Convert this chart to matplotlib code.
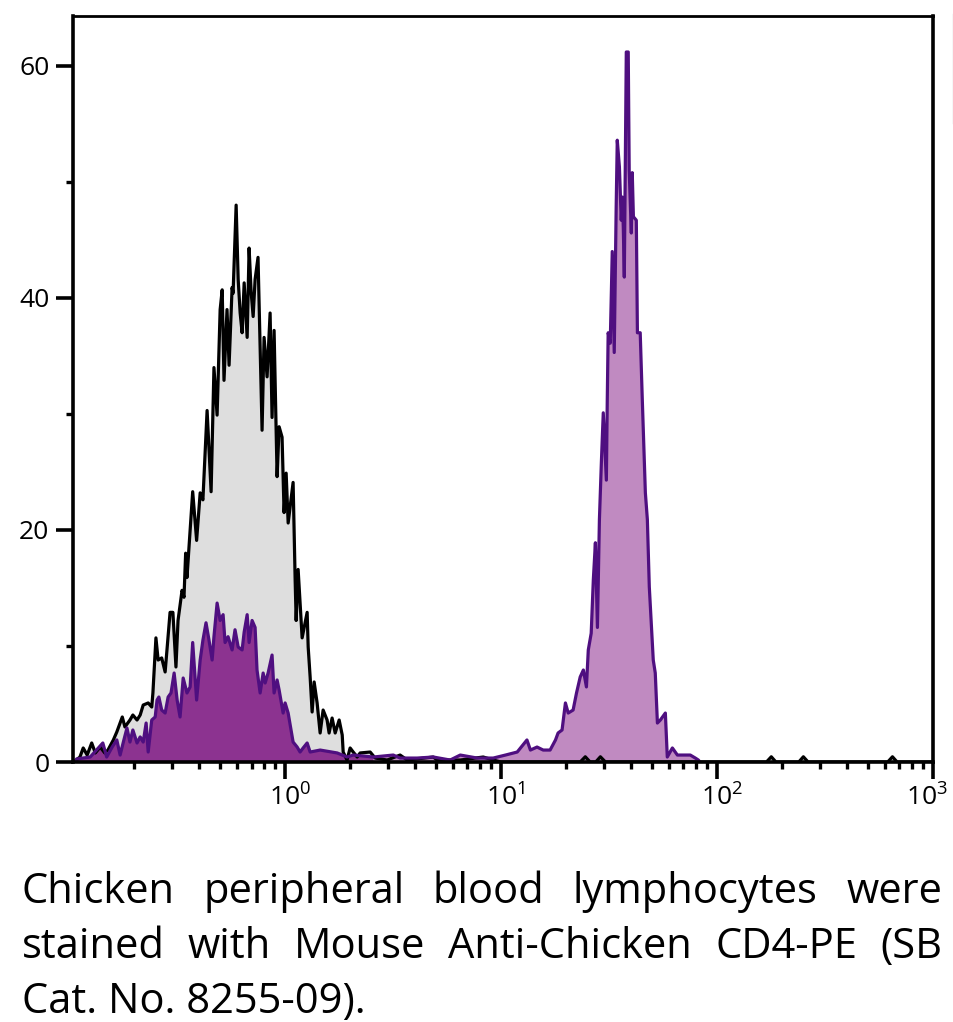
import matplotlib
matplotlib.use("Agg")
import matplotlib.pyplot as plt
from matplotlib.ticker import FixedLocator, NullFormatter, LogLocator
from matplotlib.lines import Line2D
import matplotlib.transforms as mtransforms
import numpy as np

plt.rcParams['font.family'] = ['Open Sans', 'DejaVu Sans']

# control (unstained) histogram: intensity, count
ctrl_x = [0.105, 0.112, 0.116, 0.121, 0.127, 0.132, 0.139, 0.146, 0.151, 0.160,
          0.166, 0.176, 0.181, 0.191, 0.197, 0.206, 0.213, 0.220, 0.232, 0.241,
          0.244, 0.252, 0.258, 0.268, 0.278, 0.284, 0.293, 0.302, 0.312, 0.319,
          0.333, 0.340, 0.346, 0.351, 0.373, 0.389, 0.404, 0.416, 0.435, 0.454,
          0.468, 0.484, 0.500, 0.511, 0.521, 0.538, 0.550, 0.568, 0.574, 0.593,
          0.606, 0.619, 0.632, 0.646, 0.667, 0.681, 0.696, 0.711, 0.726, 0.749,
          0.782, 0.799, 0.825, 0.852, 0.870, 0.889, 0.918, 0.938, 0.968, 0.989,
          1.011, 1.033, 1.089, 1.113, 1.125, 1.149, 1.199, 1.265, 1.279, 1.306,
          1.334, 1.363, 1.407, 1.453, 1.500, 1.565, 1.599, 1.651, 1.706, 1.780,
          1.839, 1.858, 1.936, 2.001, 2.068, 2.158, 2.227, 2.478, 2.614, 2.97,
          3.41, 3.68, 4.86, 5.07, 6.48, 8.28, 9.21, 10.0, 23.3, 24.6,
          25.9, 27.5, 28.9, 30.5, 170, 179, 188, 240, 252, 265,
          620, 652, 685, 1000]
ctrl_y = [0.0, 0.43, 1.21, 0.60, 1.64, 0.78, 1.29, 0.78, 1.03, 1.90,
          2.59, 3.88, 3.02, 3.62, 4.05, 3.62, 4.05, 4.91, 5.09, 4.74,
          5.95, 10.7, 8.79, 8.97, 7.76, 9.83, 12.9, 12.9, 8.19, 12.2,
          14.8, 14.2, 18.0, 15.9, 23.3, 19.1, 23.2, 22.6, 30.3, 23.3,
          34.0, 29.9, 39.0, 40.7, 32.9, 39.0, 34.2, 40.9, 40.4, 48.0,
          41.6, 38.7, 37.0, 41.3, 36.6, 44.3, 40.5, 38.4, 41.6, 43.5,
          28.6, 36.6, 33.2, 38.7, 29.7, 37.2, 24.6, 28.9, 28.0, 21.5,
          24.9, 20.6, 24.1, 15.7, 12.2, 16.6, 10.7, 12.9, 9.91, 7.33,
          4.31, 6.90, 5.09, 2.50, 4.48, 3.62, 2.50, 3.79, 2.50, 3.62,
          2.33, 0.86, 0.17, 1.21, 0.86, 0.43, 0.78, 0.86, 0.34, 0.17,
          0.60, 0.17, 0.43, 0.17, 0.17, 0.43, 0.17, 0.0, 0.0, 0.45,
          0.0, 0.0, 0.45, 0.0, 0.0, 0.45, 0.0, 0.0, 0.45, 0.0,
          0.0, 0.45, 0.0, 0.0]

# CD4-PE stained histogram: intensity, count
cd4_x = [0.107, 0.108, 0.125, 0.143, 0.149, 0.158, 0.166, 0.172, 0.178, 0.185,
         0.191, 0.197, 0.206, 0.213, 0.220, 0.227, 0.232, 0.241, 0.250, 0.255,
         0.260, 0.268, 0.278, 0.287, 0.296, 0.306, 0.316, 0.326, 0.337, 0.351,
         0.363, 0.373, 0.389, 0.404, 0.416, 0.430, 0.444, 0.459, 0.468, 0.484,
         0.500, 0.516, 0.527, 0.544, 0.568, 0.586, 0.606, 0.632, 0.646, 0.667,
         0.681, 0.703, 0.726, 0.741, 0.766, 0.791, 0.808, 0.834, 0.870, 0.889,
         0.918, 0.938, 0.979, 1.000, 1.033, 1.066, 1.089, 1.137, 1.173, 1.212,
         1.265, 1.306, 1.453, 1.743, 1.937, 2.068, 2.56, 3.17, 3.41, 4.09,
         4.86, 5.82, 6.48, 7.77, 9.21, 10.5, 11.9, 13.2, 13.7, 14.7,
         15.7, 16.9, 17.9, 18.4, 19.2, 19.9, 20.5, 21.6, 22.4, 23.3,
         24.1, 24.9, 25.4, 26.2, 26.8, 27.4, 28.0, 28.6, 29.2, 29.8,
         30.8, 31.1, 31.4, 32.1, 32.8, 33.5, 34.2, 34.6, 35.4, 36.1,
         36.5, 36.9, 37.3, 38.1, 38.9, 39.3, 40.2, 40.6, 41.1, 42.4,
         42.9, 44.2, 45.2, 46.7, 47.7, 48.7, 50.8, 51.9, 53.1, 54.8,
         57.8, 59.0, 62.3, 65.7, 70.0, 75.4, 79.6, 82.2, 83.6]
cd4_y = [0.0, 0.26, 0.43, 1.64, 0.43, 1.29, 1.90, 0.60, 1.72, 2.93,
         1.72, 2.76, 1.64, 2.16, 1.72, 3.36, 0.86, 3.62, 3.88, 5.34,
         5.60, 4.48, 4.22, 5.60, 5.95, 7.67, 5.34, 3.88, 7.24, 5.95,
         6.47, 10.3, 5.34, 8.79, 10.5, 12.0, 10.5, 8.79, 10.8, 13.7,
         12.2, 12.7, 10.3, 10.8, 9.66, 11.4, 9.91, 9.66, 11.2, 12.7,
         10.3, 12.2, 11.6, 7.93, 5.95, 7.67, 6.81, 7.67, 9.22, 5.95,
         7.07, 6.21, 4.22, 5.09, 4.22, 2.76, 1.72, 1.29, 0.86, 1.21,
         1.64, 0.86, 1.03, 0.78, 0.43, 0.60, 0.43, 0.60, 0.34, 0.34,
         0.43, 0.17, 0.60, 0.34, 0.34, 0.60, 0.86, 1.90, 1.03, 1.29,
         1.03, 1.03, 1.90, 2.50, 2.76, 5.09, 4.22, 4.48, 5.95, 7.33,
         7.93, 6.47, 9.66, 11.1, 15.7, 18.9, 11.6, 20.9, 25.8, 30.1,
         24.3, 31.2, 37.0, 36.1, 44.0, 35.3, 47.8, 53.6, 51.3, 46.7,
         48.7, 46.1, 41.8, 61.2, 61.2, 51.0, 45.6, 50.8, 47.0, 46.7,
         37.0, 37.0, 31.2, 23.2, 20.9, 15.1, 8.79, 7.67, 3.36, 3.62,
         4.22, 0.43, 1.21, 0.60, 0.60, 0.60, 0.34, 0.17, 0.0]

y_major = [0, 20, 40, 60]
y_minor = [10, 30, 50]
x_major = [1, 10, 100, 1000]
x_labels = [r"$\mathdefault{10^{0}}$", r"$\mathdefault{10^{1}}$",
            r"$\mathdefault{10^{2}}$", r"$\mathdefault{10^{3}}$"]
caption_lines = ["Chicken peripheral blood lymphocytes were",
                 "stained with Mouse Anti-Chicken CD4-PE (SB",
                 "Cat. No. 8255-09)."]

GRAY = "#dedede"
DARK_PURPLE = "#8c3390"
LIGHT_PURPLE = "#c08ac1"
EDGE_PURPLE = "#4f0f80"

fig = plt.figure(figsize=(9.54, 10.22), dpi=100)
ax = fig.add_axes([0.0765, 0.2544, 0.9015, 0.7299])

cx = np.array(ctrl_x)
cy = np.array(ctrl_y)
sx = np.array(cd4_x)
sy = np.array(cd4_y)

ax.fill_between(cx, cy, 0, color=GRAY, lw=0, zorder=1)
ax.fill_between(sx, sy, 0, where=sx <= 2.6, color=DARK_PURPLE, lw=0, zorder=2)
ax.fill_between(sx, sy, 0, where=sx >= 2.5, color=LIGHT_PURPLE, lw=0, zorder=2)
ax.plot(cx, cy, color="black", lw=2.3, zorder=3)
ax.plot(sx, sy, color=EDGE_PURPLE, lw=2.3, zorder=4)

ax.set_xscale("log")
ax.set_xlim(0.104, 1005)
ax.set_ylim(0, 64.3)

ax.xaxis.set_major_locator(FixedLocator(x_major))
ax.xaxis.set_minor_locator(LogLocator(base=10, subs=np.arange(2, 10)))
ax.xaxis.set_minor_formatter(NullFormatter())
ax.set_xticklabels(x_labels)
ax.yaxis.set_major_locator(FixedLocator(y_major))
ax.yaxis.set_minor_locator(FixedLocator(y_minor))
ax.set_yticklabels([str(v) for v in y_major])

for s in ax.spines.values():
    s.set_linewidth(2.6)
    s.set_zorder(5)
ax.spines["top"].set_linewidth(2.0)

ax.tick_params(axis="both", which="major", length=12, width=2.6, labelsize=19, pad=5)
ax.tick_params(axis="both", which="minor", length=5, width=2.4)
ax.tick_params(axis="x", which="major", pad=4)

# base "10" sits centred on the tick, exponent hangs to the right;
# the last one is pulled in so it stays inside the figure
labs = ax.get_xticklabels()
for k, lab in enumerate(labs):
    dx = 5 if k < len(labs) - 1 else -6
    shift = mtransforms.ScaledTranslation(dx / 100, 0, fig.dpi_scale_trans)
    lab.set_transform(lab.get_transform() + shift)

# faint crop mark at the right edge
fig.add_artist(Line2D([953.5 / 954, 953.5 / 954], [1 - 14 / 1022, 1 - 123 / 1022],
                      color="#d4d4d4", lw=1.0))

# justified caption
renderer = fig.canvas.get_renderer()
left_px, right_px = 22, 942
baselines = [903, 958, 1013]
fsize = 30
for i, line in enumerate(caption_lines):
    yfig = 1 - baselines[i] / 1022
    if i == len(caption_lines) - 1:
        fig.text(left_px / 954, yfig, line, fontsize=fsize, va="baseline", ha="left")
        continue
    words = line.split()
    texts = [fig.text(0, yfig, w, fontsize=fsize, va="baseline", ha="left") for w in words]
    widths = [t.get_window_extent(renderer).width for t in texts]
    gap = (right_px - left_px - sum(widths)) / (len(words) - 1)
    xpos = left_px
    for t, w in zip(texts, widths):
        t.set_x(xpos / 954)
        xpos += w + gap

fig.savefig("out.png", dpi=100)
